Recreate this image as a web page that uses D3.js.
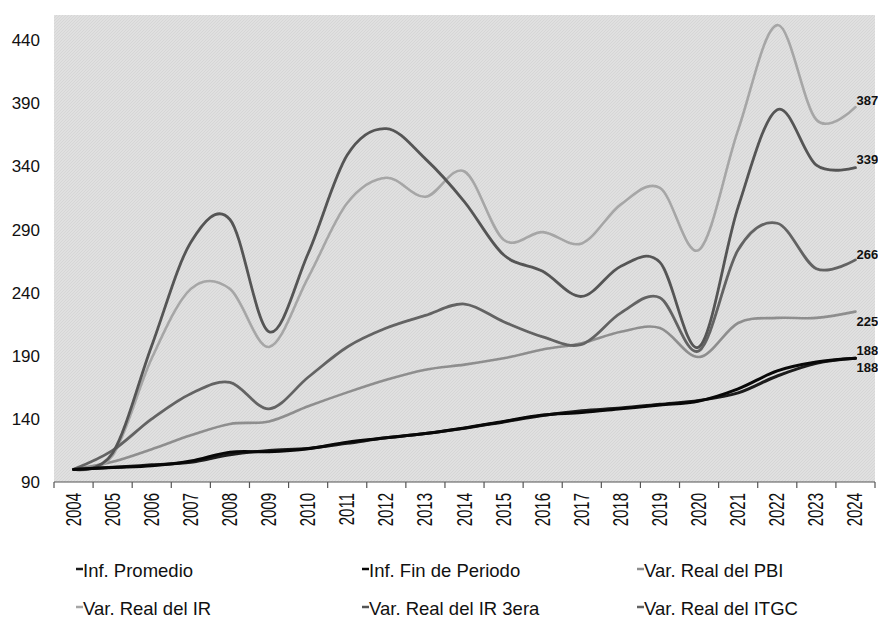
<!DOCTYPE html>
<html>
<head>
<meta charset="utf-8">
<script src="https://cdn.jsdelivr.net/npm/d3@7"></script>
<style>
  html, body { margin: 0; padding: 0; background: #ffffff; }
  svg { display: block; }
</style>
</head>
<body>
<svg id="chart" width="878" height="618"></svg>
<script>
// ---------------- DATA ----------------
const years = ["2004","2005","2006","2007","2008","2009","2010","2011","2012","2013","2014",
               "2015","2016","2017","2018","2019","2020","2021","2022","2023","2024"];

const infPromedio = [100, 101.6, 103.6, 105.6, 111.6, 115, 116.6, 120.6, 125, 128.4, 132.6,
                     137.6, 142.6, 146.4, 148.6, 151.6, 154.6, 160.6, 174, 184, 188];
const infFinPeriodo = [100, 101.5, 102.8, 106.6, 113.6, 114, 116.4, 121.6, 125, 128.4, 132.8,
                       138, 143, 145, 148, 151, 154.2, 163.8, 178, 185, 188];
const varRealPBI = [100, 106, 116, 127, 136, 138, 150, 161, 171, 179, 183,
                    188, 195, 200, 209, 212, 189, 216, 220, 220, 225];
const varRealIR = [100, 111, 188, 243, 243, 197, 252, 311, 331, 316, 336,
                   282, 288, 279, 310, 323, 274, 369, 452, 377, 387];
const varRealIR3era = [100, 113, 198, 280, 298, 209, 271, 349, 370, 346, 312,
                       270, 257, 237, 261, 264, 197, 308, 385, 341, 339];
const varRealITGC = [100, 115, 140, 160, 169, 148, 173, 197, 212, 222, 231,
                     217, 205, 199, 224, 236, 194, 274, 295, 259, 266];

const seriesNames = ["Inf. Promedio", "Inf. Fin de Periodo", "Var. Real del PBI",
                     "Var. Real del IR", "Var. Real del IR 3era", "Var. Real del ITGC"];
const seriesValues = [infPromedio, infFinPeriodo, varRealPBI, varRealIR, varRealIR3era, varRealITGC];
const endLabels = ["188", "188", "225", "387", "339", "266"];

const yTicks = [90, 140, 190, 240, 290, 340, 390, 440];
const yDomain = [90, 460];

// ---------------- STYLE ----------------
const colors = ["#1c1c1c", "#080808", "#8e8e8e", "#a6a6a6", "#555555", "#636363"];
const widths = [3, 3, 2.6, 2.6, 2.8, 2.8];
const labelDy = [9, -8, 10, -7, -8, -5];     // vertical nudge of end labels
const legendPos = [[76, 570], [362, 570], [637, 570], [76, 608], [362, 608], [637, 608]];

const svg = d3.select("#chart");
const plot = { left: 54, right: 875, top: 15, bottom: 482 };

// texture pattern for plot background
const defs = svg.append("defs");
const pat = defs.append("pattern").attr("id", "hatch")
  .attr("width", 3).attr("height", 3).attr("patternUnits", "userSpaceOnUse");
pat.append("rect").attr("width", 3).attr("height", 3).attr("fill", "#e0e0e0");
pat.append("path").attr("d", "M0,3 L3,0").attr("stroke", "#d3d3d3").attr("stroke-width", 0.8);

svg.append("rect").attr("x", 0).attr("y", 0).attr("width", 878).attr("height", 618).attr("fill", "#ffffff");
svg.append("rect")
  .attr("x", plot.left).attr("y", plot.top)
  .attr("width", plot.right - plot.left).attr("height", plot.bottom - plot.top)
  .attr("fill", "url(#hatch)");

// ---------------- SCALES ----------------
const x = d3.scaleBand().domain(years).range([plot.left, plot.right]).padding(0);
const y = d3.scaleLinear().domain(yDomain).range([plot.bottom, plot.top]);
const cx = d => x(d) + x.bandwidth() / 2;

// Y axis (labels only)
const yAxis = svg.append("g")
  .attr("transform", `translate(${plot.left},0)`)
  .call(d3.axisLeft(y).tickValues(yTicks).tickSize(0).tickPadding(14));
yAxis.select(".domain").remove();
yAxis.selectAll("text")
  .attr("font-family", "Liberation Sans, Arial, sans-serif")
  .attr("font-size", 17).attr("fill", "#111");

// X axis
const xAxis = svg.append("g").attr("transform", `translate(0,${plot.bottom})`);
xAxis.append("line")
  .attr("x1", plot.left).attr("x2", plot.right).attr("y1", 0).attr("y2", 0)
  .attr("stroke", "#555").attr("stroke-width", 1.2);
const boundaries = years.map(d => x(d)).concat([x(years[years.length - 1]) + x.bandwidth()]);
xAxis.selectAll("line.tk").data(boundaries).enter().append("line")
  .attr("class", "tk")
  .attr("x1", d => d).attr("x2", d => d).attr("y1", 0).attr("y2", 6)
  .attr("stroke", "#555").attr("stroke-width", 1.2);
xAxis.selectAll("text.yr").data(years).enter().append("text")
  .attr("class", "yr")
  .attr("transform", d => `translate(${cx(d) + 7},11) rotate(-90) scale(1,1.42)`)
  .attr("text-anchor", "end")
  .attr("font-family", "Liberation Sans, Arial, sans-serif")
  .attr("font-size", 15).attr("fill", "#111")
  .text(d => d);

// ---------------- LINES ----------------
const line = d3.line()
  .x((v, i) => cx(years[i]))
  .y(v => y(v))
  .curve(d3.curveCardinal.tension(0));

const order = [2, 3, 5, 4, 0, 1];
order.forEach(k => {
  svg.append("path")
    .datum(seriesValues[k])
    .attr("d", line)
    .attr("fill", "none")
    .attr("stroke", colors[k])
    .attr("stroke-width", widths[k])
    .attr("stroke-linejoin", "round")
    .attr("stroke-linecap", "round");
});

// End labels
seriesValues.forEach((vals, k) => {
  const last = vals.length - 1;
  svg.append("text")
    .attr("x", cx(years[last]) + 1)
    .attr("y", y(vals[last]) + labelDy[k])
    .attr("dy", "0.35em")
    .attr("font-family", "Liberation Sans Narrow, Arial Narrow, Liberation Sans, Arial, sans-serif")
    .attr("font-weight", "bold")
    .attr("font-size", 13)
    .attr("fill", "#111")
    .text(endLabels[k]);
});

// ---------------- LEGEND ----------------
seriesNames.forEach((name, k) => {
  const [lx, ly] = legendPos[k];
  const g = svg.append("g").attr("transform", `translate(${lx},${ly})`);
  g.append("line").attr("x1", 0).attr("x2", 7).attr("y1", -1).attr("y2", -1)
    .attr("stroke", colors[k]).attr("stroke-width", 2.5);
  g.append("text")
    .attr("x", 7).attr("y", 6.5)
    .attr("font-family", "Liberation Sans, Arial, sans-serif")
    .attr("font-size", 18.5).attr("fill", "#111")
    .text(name);
});
</script>
</body>
</html>
